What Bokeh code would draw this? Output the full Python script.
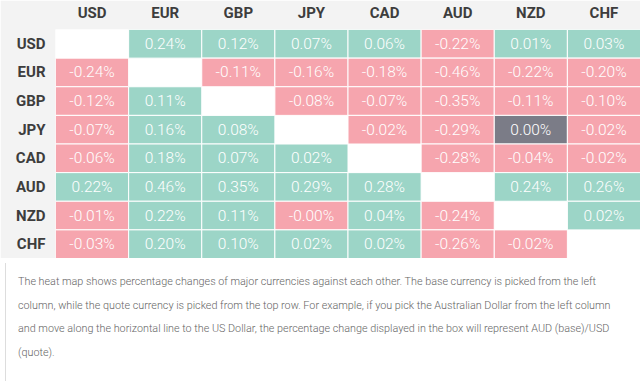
import math
from bokeh.plotting import figure
from bokeh.models import ColumnDataSource, FactorRange, Div
from bokeh.layouts import column
from bokeh.core.properties import value
from bokeh.embed import file_html
from bokeh.resources import INLINE

currencies = ["USD", "EUR", "GBP", "JPY", "CAD", "AUD", "NZD", "CHF"]

# rows = base currency, columns = quote currency (None on the diagonal)
row_USD = [None, 0.24, 0.12, 0.07, 0.06, -0.22, 0.01, 0.03]
row_EUR = [-0.24, None, -0.11, -0.16, -0.18, -0.46, -0.22, -0.20]
row_GBP = [-0.12, 0.11, None, -0.08, -0.07, -0.35, -0.11, -0.10]
row_JPY = [-0.07, 0.16, 0.08, None, -0.02, -0.29, 0.00, -0.02]
row_CAD = [-0.06, 0.18, 0.07, 0.02, None, -0.28, -0.04, -0.02]
row_AUD = [0.22, 0.46, 0.35, 0.29, 0.28, None, 0.24, 0.26]
row_NZD = [-0.01, 0.22, 0.11, -0.0, 0.04, -0.24, None, 0.02]
row_CHF = [-0.03, 0.20, 0.10, 0.02, 0.02, -0.26, -0.02, None]

rows = [row_USD, row_EUR, row_GBP, row_JPY, row_CAD, row_AUD, row_NZD, row_CHF]

note = ("The heat map shows percentage changes of major currencies against each other. The base currency is picked from the left<br>"
        "column, while the quote currency is picked from the top row. For example, if you pick the Australian Dollar from the left column<br>"
        "and move along the horizontal line to the US Dollar, the percentage change displayed in the box will represent AUD (base)/USD<br>"
        "(quote).")

POS = "#9cd5c7"
NEG = "#f6a5ae"
ZERO = "#7b7c87"

xs, ys, cols, labels = [], [], [], []
for base, vals in zip(currencies, rows):
    for quote, v in zip(currencies, vals):
        if v is None:
            continue
        xs.append(quote)
        ys.append(base)
        if v == 0 and math.copysign(1, v) > 0:
            cols.append(ZERO)
        elif math.copysign(1, v) < 0:
            cols.append(NEG)
        else:
            cols.append(POS)
        labels.append("%.2f%%" % v)

src = ColumnDataSource(dict(x=xs, y=ys, color=cols, label=labels))

p = figure(width=640, height=258, output_backend="svg", toolbar_location=None,
           x_range=FactorRange(*currencies), y_range=FactorRange(*reversed(currencies)),
           x_axis_location="above", min_border_left=55, min_border_top=28,
           min_border_right=0, min_border_bottom=0)
p.outline_line_color = None
p.background_fill_color = "white"
p.border_fill_color = "#f3f3f3"
p.grid.visible = False

p.rect(x="x", y="y", width=1, height=1, source=src, fill_color="color",
       line_color="white", line_width=1)
p.text(x="x", y="y", text="label", source=src, text_align="center",
       text_baseline="middle", text_color="white", text_font_size="15.5px",
       text_font=value("Roboto Light"))

for ax in (p.xaxis[0], p.yaxis[0]):
    ax.axis_line_color = None
    ax.major_tick_line_color = None
    ax.minor_tick_line_color = None
    ax.major_tick_out = 0
    ax.major_tick_in = 0
    ax.major_label_text_font_size = "15px"
    ax.major_label_text_font_style = "bold"
    ax.major_label_text_color = "#3d3d3d"
    ax.major_label_text_font = "Roboto"
p.xaxis[0].major_label_standoff = 8
p.yaxis[0].major_label_standoff = 10

div = Div(text='<div style="font-family: \'Roboto Light\', Roboto; font-size: 10.8px; color: #666; '
               'line-height: 23.6px; padding: 7px 0 0 12px; white-space: nowrap;">' + note + '</div>',
          width=640, height=123,
          styles={"border-left": "1px solid #dddddd", "border-bottom": "1px solid #dddddd",
                  "background-color": "white", "box-sizing": "border-box"})

layout = column(p, div, spacing=0)
open("out.html", "w").write(file_html(layout, INLINE))
